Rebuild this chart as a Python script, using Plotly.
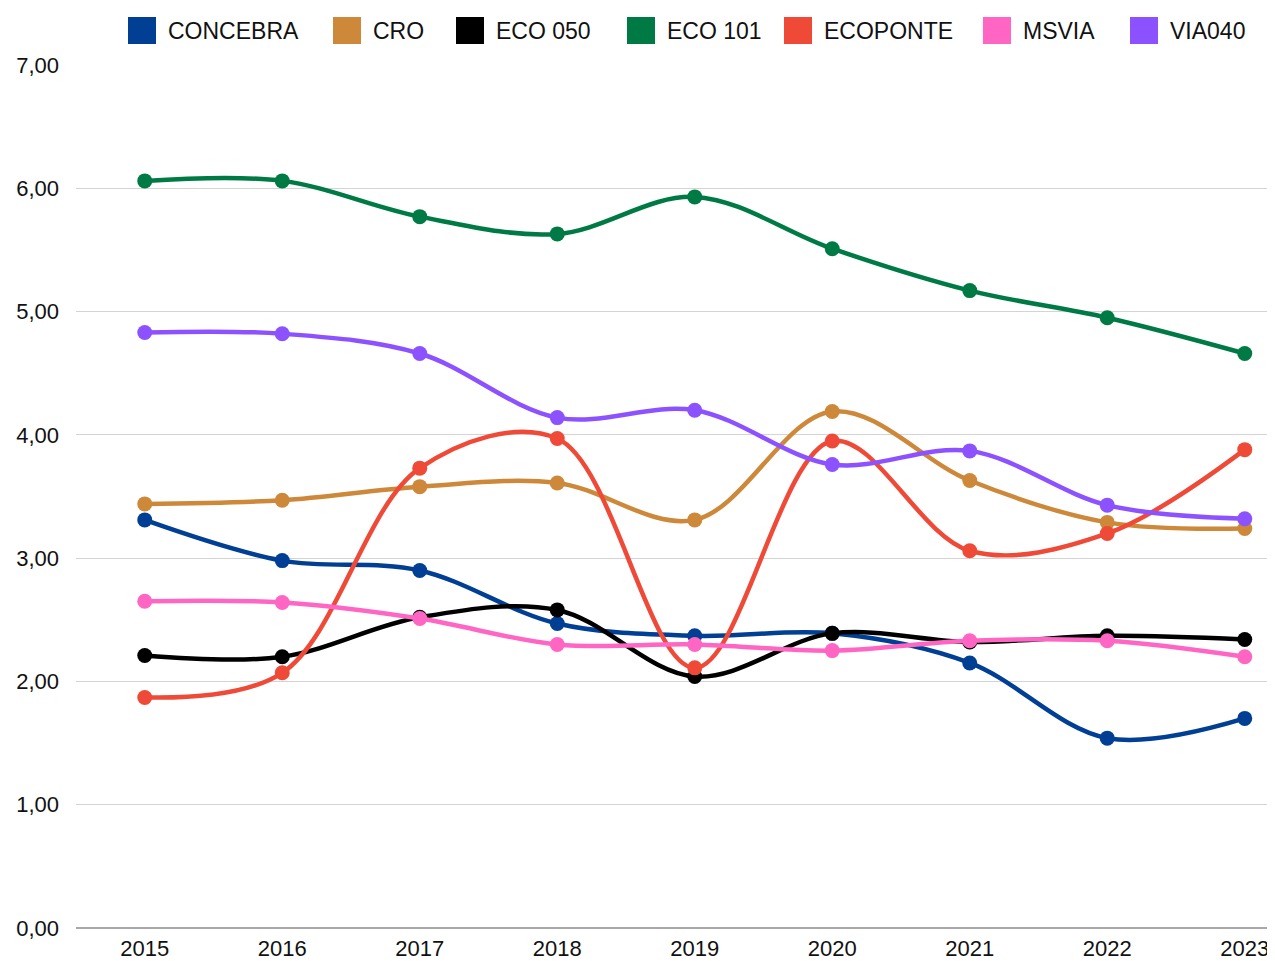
import plotly.graph_objects as go

years = [2015, 2016, 2017, 2018, 2019, 2020, 2021, 2022, 2023]
series_names = ["CONCEBRA", "CRO", "ECO 050", "ECO 101", "ECOPONTE", "MSVIA", "VIA040"]
concebra = [3.31, 2.98, 2.90, 2.47, 2.37, 2.39, 2.15, 1.54, 1.70]
cro = [3.44, 3.47, 3.58, 3.61, 3.31, 4.19, 3.63, 3.29, 3.24]
eco050 = [2.21, 2.20, 2.52, 2.58, 2.04, 2.39, 2.32, 2.37, 2.34]
eco101 = [6.06, 6.06, 5.77, 5.63, 5.93, 5.51, 5.17, 4.95, 4.66]
ecoponte = [1.87, 2.07, 3.73, 3.97, 2.11, 3.95, 3.06, 3.20, 3.88]
msvia = [2.65, 2.64, 2.51, 2.30, 2.30, 2.25, 2.33, 2.33, 2.20]
via040 = [4.83, 4.82, 4.66, 4.14, 4.20, 3.76, 3.87, 3.43, 3.32]
values = [concebra, cro, eco050, eco101, ecoponte, msvia, via040]
colors = ["#003f94", "#cd883a", "#000000", "#007a45", "#ef4a38", "#ff66c4", "#8c52ff"]
y_ticks = [0, 1, 2, 3, 4, 5, 6, 7]

FONT = "Liberation Sans, Arial, sans-serif"
OFF = 8  # page body margin
W, H = 1275 - OFF, 961 - OFF
ML, MR, MT, MB = 76 - OFF, 0, 65 - OFF, 33
PW, PH = W - ML - MR, H - MT - MB

fig = go.Figure()
for name, vals, col in zip(series_names, values, colors):
    fig.add_trace(go.Scatter(
        x=years, y=vals, name=name, mode="lines+markers",
        line=dict(color=col, width=4.5, shape="spline", smoothing=1.0),
        marker=dict(color=col, size=15),
        showlegend=False, cliponaxis=False,
    ))

# custom legend (squares + labels), positions in page pixels
legend_left_px = [128, 333, 456, 627, 784, 983, 1130]
sq_w, sq_top, sq_bot = 28, 17, 44
shapes = []
annotations = []
for name, col, lx in zip(series_names, colors, legend_left_px):
    x0 = (lx - OFF - ML) / PW
    x1 = (lx - OFF + sq_w - ML) / PW
    y0 = (H - MB - (sq_bot - OFF)) / PH
    y1 = (H - MB - (sq_top - OFF)) / PH
    shapes.append(dict(type="rect", xref="paper", yref="paper", x0=x0, x1=x1, y0=y0, y1=y1,
                       fillcolor=col, line=dict(width=0)))
    annotations.append(dict(xref="paper", yref="paper", x=(lx - OFF + sq_w + 10 - ML) / PW,
                            y=(H - MB - ((sq_top + sq_bot) / 2 - OFF)) / PH, text=name, showarrow=False,
                            xanchor="left", yanchor="middle",
                            font=dict(family=FONT, size=23, color="#111111")))

fig.update_layout(
    width=W, height=H,
    margin=dict(l=ML, r=MR, t=MT, b=MB, autoexpand=False),
    paper_bgcolor="white", plot_bgcolor="white",
    separators=",.",
    font=dict(family=FONT, size=22, color="#111111"),
    shapes=shapes, annotations=annotations,
    xaxis=dict(
        range=[2015 - 0.5, 2023 + 0.22], tickmode="array", tickvals=years,
        ticktext=[str(y) for y in years], showgrid=False, zeroline=False,
        showline=False, ticks="", ticklabelstandoff=5, automargin=False,
        tickfont=dict(size=22, family=FONT, color="#111111"),
        fixedrange=True,
    ),
    yaxis=dict(
        range=[0, 7], tickmode="array", tickvals=y_ticks, tickformat=".2f",
        showgrid=True, gridcolor="#d4d4d4", gridwidth=1,
        zeroline=True, zerolinecolor="#a8a8a8", zerolinewidth=2,
        showline=False, ticks="", ticklabelstandoff=16, automargin=False,
        tickfont=dict(size=22, family=FONT, color="#111111"),
    ),
)

fig.write_html("out.html")
